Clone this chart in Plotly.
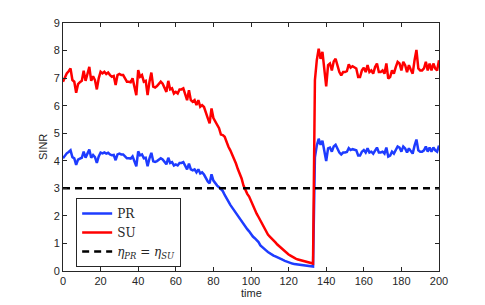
import plotly.graph_objects as go

time = list(range(0, 201))

su = [
    6.87, 7.05, 7.17, 7.25, 7.35, 6.93, 6.87, 6.47, 6.78, 6.85,
    6.90, 7.27, 6.90, 7.15, 7.41, 6.90, 7.07, 6.93, 6.59, 6.99,
    7.23, 7.17, 7.23, 7.15, 7.20, 7.11, 7.05, 7.08, 6.75, 7.11,
    7.15, 7.11, 7.11, 6.99, 6.87, 6.87, 6.85, 6.99, 6.69, 6.38,
    7.29, 7.05, 7.11, 6.87, 6.90, 6.38, 6.87, 7.20, 6.69, 6.66,
    6.71, 6.80, 6.87, 6.80, 6.66, 6.50, 6.90, 6.59, 6.63, 6.44,
    6.50, 6.44, 6.59, 6.59, 6.63, 6.45, 6.20, 6.56, 6.20, 6.14,
    6.20, 6.02, 6.20, 5.96, 6.02, 5.95, 5.78, 5.55, 5.36, 5.90,
    5.55, 5.42, 5.30, 5.18, 4.95, 4.93, 4.87, 4.65, 4.51, 4.38,
    4.22, 4.10, 3.90, 3.70, 3.52, 3.36, 3.10, 2.94, 2.80, 2.70,
    2.53, 2.38, 2.21, 2.08, 1.96, 1.82, 1.70, 1.58, 1.44, 1.32,
    1.25, 1.19, 1.10, 1.04, 0.96, 0.90, 0.82, 0.76, 0.70, 0.65,
    0.60, 0.56, 0.51, 0.47, 0.44, 0.42, 0.40, 0.37, 0.35, 0.34,
    0.32, 0.30, 0.29, 0.27, 6.93, 7.65, 8.07, 7.70, 7.95, 7.28,
    6.70, 7.47, 7.53, 7.28, 7.60, 7.70, 7.47, 7.22, 7.10, 7.22,
    7.22, 7.25, 7.50, 7.38, 7.43, 7.38, 7.35, 7.04, 7.04, 7.28,
    7.38, 7.22, 7.47, 7.22, 7.28, 7.16, 7.40, 7.53, 7.22, 7.22,
    7.28, 7.16, 7.53, 6.98, 7.04, 7.28, 7.16, 7.40, 7.59, 7.53,
    7.28, 7.59, 7.47, 7.22, 7.47, 7.30, 7.16, 7.65, 8.02, 7.35,
    7.28, 7.28, 7.35, 7.59, 7.28, 7.53, 7.28, 7.53, 7.35, 7.28,
    7.65,
]

pr = [
    4.09, 4.20, 4.27, 4.32, 4.38, 4.13, 4.09, 3.85, 4.04, 4.08,
    4.11, 4.33, 4.11, 4.26, 4.41, 4.11, 4.21, 4.13, 3.92, 4.16,
    4.30, 4.27, 4.30, 4.26, 4.29, 4.23, 4.20, 4.21, 4.02, 4.23,
    4.26, 4.23, 4.23, 4.16, 4.09, 4.09, 4.08, 4.16, 3.98, 3.80,
    4.34, 4.20, 4.23, 4.09, 4.11, 3.80, 4.09, 4.29, 3.98, 3.96,
    3.99, 4.05, 4.09, 4.05, 3.96, 3.87, 4.11, 3.92, 3.95, 3.83,
    3.87, 3.83, 3.92, 3.92, 3.95, 3.84, 3.69, 3.90, 3.69, 3.65,
    3.69, 3.58, 3.69, 3.54, 3.58, 3.50, 3.36, 3.25, 3.18, 3.51,
    3.28, 3.18, 3.10, 3.04, 2.96, 2.90, 2.76, 2.62, 2.51, 2.40,
    2.30, 2.20, 2.10, 2.00, 1.90, 1.79, 1.68, 1.60, 1.52, 1.44,
    1.33, 1.25, 1.19, 1.12, 1.05, 0.93, 0.86, 0.81, 0.75, 0.69,
    0.64, 0.60, 0.56, 0.53, 0.49, 0.46, 0.43, 0.40, 0.37, 0.34,
    0.31, 0.29, 0.27, 0.25, 0.24, 0.23, 0.22, 0.21, 0.20, 0.19,
    0.18, 0.17, 0.17, 0.16, 4.13, 4.55, 4.80, 4.58, 4.73, 4.33,
    3.99, 4.45, 4.48, 4.33, 4.52, 4.58, 4.45, 4.30, 4.23, 4.30,
    4.30, 4.32, 4.46, 4.39, 4.42, 4.39, 4.38, 4.19, 4.19, 4.33,
    4.39, 4.30, 4.45, 4.30, 4.33, 4.26, 4.40, 4.48, 4.30, 4.30,
    4.33, 4.26, 4.48, 4.15, 4.19, 4.33, 4.26, 4.40, 4.52, 4.48,
    4.33, 4.52, 4.45, 4.30, 4.45, 4.35, 4.26, 4.55, 4.77, 4.38,
    4.33, 4.33, 4.38, 4.52, 4.33, 4.48, 4.33, 4.48, 4.38, 4.33,
    4.55,
]

threshold_x = [0, 200]
threshold_y = [3, 3]

x_ticks = [0, 20, 40, 60, 80, 100, 120, 140, 160, 180, 200]
y_ticks = [0, 1, 2, 3, 4, 5, 6, 7, 8, 9]

label_font = dict(family="Liberation Sans, Arial", size=11, color="#262626")

fig = go.Figure()
fig.add_trace(go.Scatter(x=time, y=pr, mode="lines", name="PR",
                         line=dict(color="rgb(30,60,255)", width=2.5)))
fig.add_trace(go.Scatter(x=time, y=su, mode="lines", name="SU",
                         line=dict(color="rgb(255,0,0)", width=2.5)))
fig.add_trace(go.Scatter(x=threshold_x, y=threshold_y, mode="lines",
                         name="<i>η</i><sub><i>PR</i></sub> = <i>η</i><sub><i>SU</i></sub>",
                         line=dict(color="black", width=2.5, dash="7px,5px")))

axis_common = dict(
    showline=True, linecolor="#262626", linewidth=1, mirror="ticks",
    ticks="inside", ticklen=4, tickcolor="#262626", showgrid=False,
    zeroline=False, automargin=False, tickfont=label_font,
)

fig.update_layout(
    width=485, height=305,
    margin=dict(l=63, r=46, t=23, b=34, autoexpand=False),
    paper_bgcolor="white", plot_bgcolor="white",
    showlegend=True,
    legend=dict(
        x=0.035, y=0.294, xanchor="left", yanchor="top",
        bgcolor="white", bordercolor="#262626", borderwidth=1,
        font=dict(family="DejaVu Serif, Liberation Serif", size=12, color="#262626"),
        tracegroupgap=0, itemwidth=30,
    ),
    xaxis=dict(range=[0, 200], tickvals=x_ticks, **axis_common),
    yaxis=dict(range=[0, 9], tickvals=y_ticks, **axis_common),
    annotations=[
        dict(text="time", xref="paper", yref="paper", x=0.5, y=0,
             xanchor="center", yanchor="middle", yshift=-22, borderpad=0,
             showarrow=False, font=label_font),
        dict(text="SINR", xref="paper", yref="paper", x=0, y=0.5,
             xanchor="center", yanchor="middle", xshift=-20, textangle=-90,
             showarrow=False, font=label_font),
    ],
)

fig.write_html(
    "out.html",
    config={"displayModeBar": False},
    post_script="document.body.style.margin='0';document.body.style.overflow='hidden';",
)
